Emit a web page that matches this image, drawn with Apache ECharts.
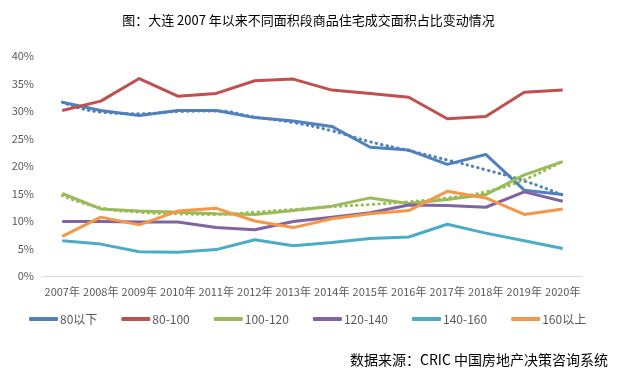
<!DOCTYPE html>
<html><head><meta charset="utf-8">
<script src="https://cdn.jsdelivr.net/npm/echarts@6/dist/echarts.min.js"></script>
<style>html,body{margin:0;padding:0;background:#fff}#c{width:617px;height:378px}</style>
</head><body><div id="c"></div>
<script>
const categories = ['2007年','2008年','2009年','2010年','2011年','2012年','2013年','2014年','2015年','2016年','2017年','2018年','2019年','2020年'];
const s80below = [31.6,30.1,29.2,30.1,30.1,28.8,28.2,27.2,23.4,22.9,20.3,22.1,15.6,14.8];
const s80to100 = [30.1,31.8,35.9,32.7,33.2,35.5,35.8,33.8,33.2,32.5,28.6,29.0,33.4,33.8];
const s100to120 = [15.0,12.2,11.8,11.6,11.3,11.2,11.9,12.7,14.2,13.2,13.9,14.8,18.4,20.8];
const s120to140 = [9.9,9.9,9.8,9.8,8.8,8.4,9.9,10.7,11.5,12.9,12.8,12.5,15.3,13.6];
const s140to160 = [6.4,5.8,4.4,4.3,4.8,6.6,5.5,6.1,6.8,7.1,9.4,7.8,6.4,5.0];
const s160above = [7.2,10.7,9.3,11.8,12.3,10.0,8.8,10.4,11.3,11.9,15.4,14.2,11.2,12.2];
const trend80below = [31.6,29.8,29.5,29.9,30.0,28.9,27.9,26.4,24.4,22.8,21.1,19.3,17.3,14.7];
const trend100to120 = [14.6,12.4,11.6,11.3,11.2,11.6,12.1,12.6,13.0,13.5,14.2,15.3,17.5,20.9];
const names = ['80以下','80-100','100-120','120-140','140-160','160以上'];
const colors = ['#4F81BD','#C0504D','#9BBB59','#8064A2','#4BACC6','#F79646'];
const seriesData = [s80below,s80to100,s100to120,s120to140,s140to160,s160above];

const series = seriesData.map((d,i)=>({
  name: names[i], type:'line', data:d, symbol:'none', smooth:false,
  lineStyle:{width:3,color:colors[i]}, itemStyle:{color:colors[i]}, z:3
}));
series.push({name:'trend1',type:'line',data:trend80below,symbol:'none',smooth:true,
  lineStyle:{width:3,color:colors[0],type:[0.5,5],cap:'round'},z:2});
series.push({name:'trend2',type:'line',data:trend100to120,symbol:'none',smooth:true,
  lineStyle:{width:3,color:colors[2],type:[0.5,5],cap:'round'},z:2});

const chart = echarts.init(document.getElementById('c'));
chart.setOption({
  animation:false,
  title:{text:'图：大连 2007 年以来不同面积段商品住宅成交面积占比变动情况',left:'center',top:9,
    textStyle:{fontSize:13,fontWeight:'normal',color:'#000',fontFamily:'Noto Sans CJK SC'}},
  graphic:[{type:'text',right:9,top:353,style:{text:'数据来源：CRIC 中国房地产决策咨询系统',fontSize:14,fill:'#000',fontFamily:'Noto Sans CJK SC'}}],
  legend:{data:names,left:29,top:313,padding:0,itemWidth:29,itemHeight:4,itemGap:24,icon:'roundRect',
    textStyle:{fontSize:12,color:'#595959',fontFamily:'Noto Sans CJK SC',padding:[0,0,0,-3]}},
  grid:{left:43,right:35,top:56,bottom:102,containLabel:false},
  xAxis:{type:'category',data:categories,boundaryGap:true,
    axisLine:{lineStyle:{color:'#D9D9D9',width:1}},axisTick:{show:false},
    axisLabel:{interval:0,fontSize:11,color:'#595959',margin:10,fontFamily:'Noto Sans CJK SC'}},
  yAxis:{type:'value',min:0,max:40,interval:5,
    axisLabel:{formatter:'{value}%',fontSize:11,color:'#595959',margin:9,fontFamily:'Noto Sans CJK SC'},
    splitLine:{show:false},axisLine:{show:false},axisTick:{show:false}},
  series
});
</script></body></html>
